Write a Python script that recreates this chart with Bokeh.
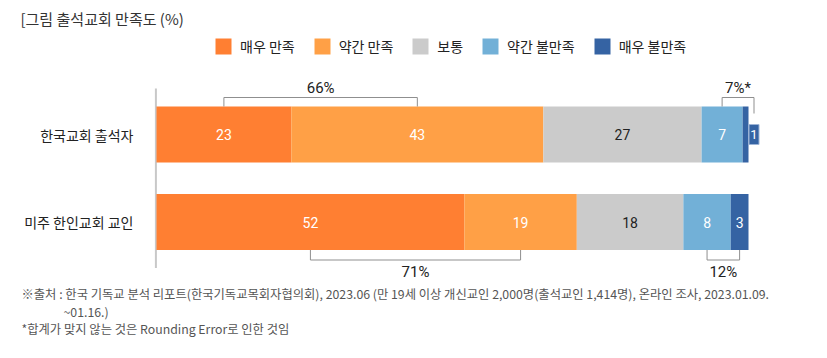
from bokeh.plotting import figure
from bokeh.models import Range1d, ColumnDataSource, Label, Legend, LegendItem
from bokeh.core.properties import value
from bokeh.embed import file_html
from bokeh.resources import INLINE

# ---------------- data ----------------
rows = ["한국교회 출석자", "미주 한인교회 교인"]
levels = ["매우 만족", "약간 만족", "보통", "약간 불만족", "매우 불만족"]
korea = [23, 43, 27, 7, 1]
us = [52, 19, 18, 8, 3]
# row index, first segment, second segment, side, label
brackets = [
    (0, 0, 1, "above", "66%"),
    (0, 3, 4, "above", "7%*"),
    (1, 0, 1, "below", "71%"),
    (1, 3, 4, "below", "12%"),
]
title = "[그림 출석교회 만족도 (%)"
notes = [
    "※출처 : 한국 기독교 분석 리포트(한국기독교목회자협의회), 2023.06 (만 19세 이상 개신교인 2,000명(출석교인 1,414명), 온라인 조사, 2023.01.09.",
    "~01.16.)",
    "*합계가 맞지 않는 것은 Rounding Error로 인한 것임",
]

# ---------------- style ----------------
colors = ["#FF7F32", "#FFA046", "#CBCBCB", "#72B0D7", "#3563A3"]
text_colors = ["#FFFFFF", "#FFFFFF", "#222222", "#FFFFFF", "#FFFFFF"]
KR = "Noto Sans CJK KR"
NUM = "Roboto"

W, H = 811, 342
X0 = 156.0      # pixel position of value 0
SX = 5.92       # pixels per percent
RY = 87.5       # pixels between rows
TOPC = 134.0    # pixel of first row centre (from top)
BAR_H = 56.0 / RY
px = 1.0 / SX
py = 1.0 / RY

series = [korea, us]
# 100% stacked: each row is scaled to its own total
shares = [[v * 100.0 / sum(s) for v in s] for s in series]
n = len(rows)
ypos = [n - 1 - i for i in range(n)]

p = figure(width=W, height=H, output_backend="svg", toolbar_location=None,
           x_range=Range1d(-X0 / SX, (W - X0) / SX),
           y_range=Range1d(ypos[0] - (H - TOPC) / RY, ypos[0] + TOPC / RY),
           x_axis_location=None, y_axis_location=None,
           min_border_left=0, min_border_right=0, min_border_top=0, min_border_bottom=0)
p.outline_line_color = None
p.xgrid.visible = False
p.ygrid.visible = False
p.background_fill_color = "white"
p.border_fill_color = "white"

# axis line
p.segment(x0=[-0.6 * px], x1=[-0.6 * px],
          y0=[ypos[0] + BAR_H / 2 + 18 * py], y1=[ypos[-1] - BAR_H / 2 - 18 * py],
          line_color="#C8C8C8", line_width=2)

# stacked bars
lefts = [[sum(s[:j]) for j in range(len(levels))] for s in shares]
legend_items = []
for j, lev in enumerate(levels):
    src = ColumnDataSource(dict(
        y=ypos,
        left=[lefts[i][j] for i in range(n)],
        right=[lefts[i][j] + shares[i][j] for i in range(n)],
    ))
    r = p.hbar(y="y", left="left", right="right", height=BAR_H, source=src,
               fill_color=colors[j], line_color=None)
    legend_items.append(LegendItem(label=lev, renderers=[r]))

# value labels
lx, ly, lt, lc = [], [], [], []
bx, by, bt = [], [], []
small_pos = {}
for i in range(n):
    for j, v in enumerate(series[i]):
        w = shares[i][j]
        if v >= 2:
            lx.append(lefts[i][j] + w / 2); ly.append(ypos[i]); lt.append(str(v)); lc.append(text_colors[j])
        else:
            cx = lefts[i][j] + w + 5.5 * px
            bx.append(cx); by.append(ypos[i]); bt.append(str(v))
            small_pos[(i, j)] = cx
p.text(x=lx, y=ly, text=lt, text_color=lc, text_align="center", text_baseline="middle",
       text_font=value(NUM), text_font_size="14px")
if bx:
    p.rect(x=bx, y=by, width=10, height=20, width_units="screen", height_units="screen",
           fill_color=colors[4], line_color="#9DB4D6", line_width=1)
    p.text(x=bx, y=by, text=bt, text_color="white", text_align="center", text_baseline="middle",
           text_font=value(NUM), text_font_size="13px")

# brackets
xs, ys = [], []
tx, ty, tt, tb = [], [], [], []
for (i, a, b, side, lab) in brackets:
    xa = small_pos.get((i, a), lefts[i][a] + shares[i][a] / 2)
    xb = small_pos.get((i, b), lefts[i][b] + shares[i][b] / 2)
    if side == "above":
        edge = ypos[i] + BAR_H / 2
        lvl = edge + 9 * py
        ya = edge if (i, a) not in small_pos else edge - 7 * py
        yb = edge if (i, b) not in small_pos else edge - 7 * py
        tb.append("bottom"); ty.append(lvl + 1 * py)
    else:
        edge = ypos[i] - BAR_H / 2
        lvl = edge - 10 * py
        ya = edge; yb = edge
        tb.append("top"); ty.append(lvl - 3 * py)
    xs.append([xa, xa, xb, xb]); ys.append([ya, lvl, lvl, yb])
    tx.append((xa + xb) / 2); tt.append(lab)
p.multi_line(xs=xs, ys=ys, line_color="#8F8F8F", line_width=1)
for k in range(len(tt)):
    p.text(x=[tx[k]], y=[ty[k]], text=[tt[k]], text_color="#222222", text_align="center",
           text_baseline=tb[k], text_font=value(NUM), text_font_size="15px")

# category labels
p.text(x=[0] * n, y=ypos, text=rows, x_offset=-23, text_align="right", text_baseline="middle",
       text_color="#222222", text_font=value(KR), text_font_size="14px")

# legend
legend = Legend(items=legend_items, orientation="horizontal", location=(213, H - 56),
                glyph_width=20, glyph_height=20, label_height=20, label_standoff=7,
                spacing=17, padding=0, margin=0, border_line_color=None,
                background_fill_alpha=0, label_text_font=KR, label_text_font_size="14px",
                label_text_color="#222222", label_text_baseline="middle")
p.add_layout(legend, "center")

# title
p.add_layout(Label(x=20, y=H - 18, x_units="screen", y_units="screen", text=title,
                   text_font=KR, text_font_size="15px", text_color="#333333",
                   text_baseline="middle"))

# footnotes
note_pos = [(21, 293), (63, 311), (21, 328)]
for (nx, nyy), t in zip(note_pos, notes):
    p.add_layout(Label(x=nx, y=H - nyy, x_units="screen", y_units="screen", text=t,
                       text_font=KR, text_font_size="12.3px", text_color="#555555",
                       text_baseline="middle"))

open("out.html", "w").write(file_html(p, INLINE))
